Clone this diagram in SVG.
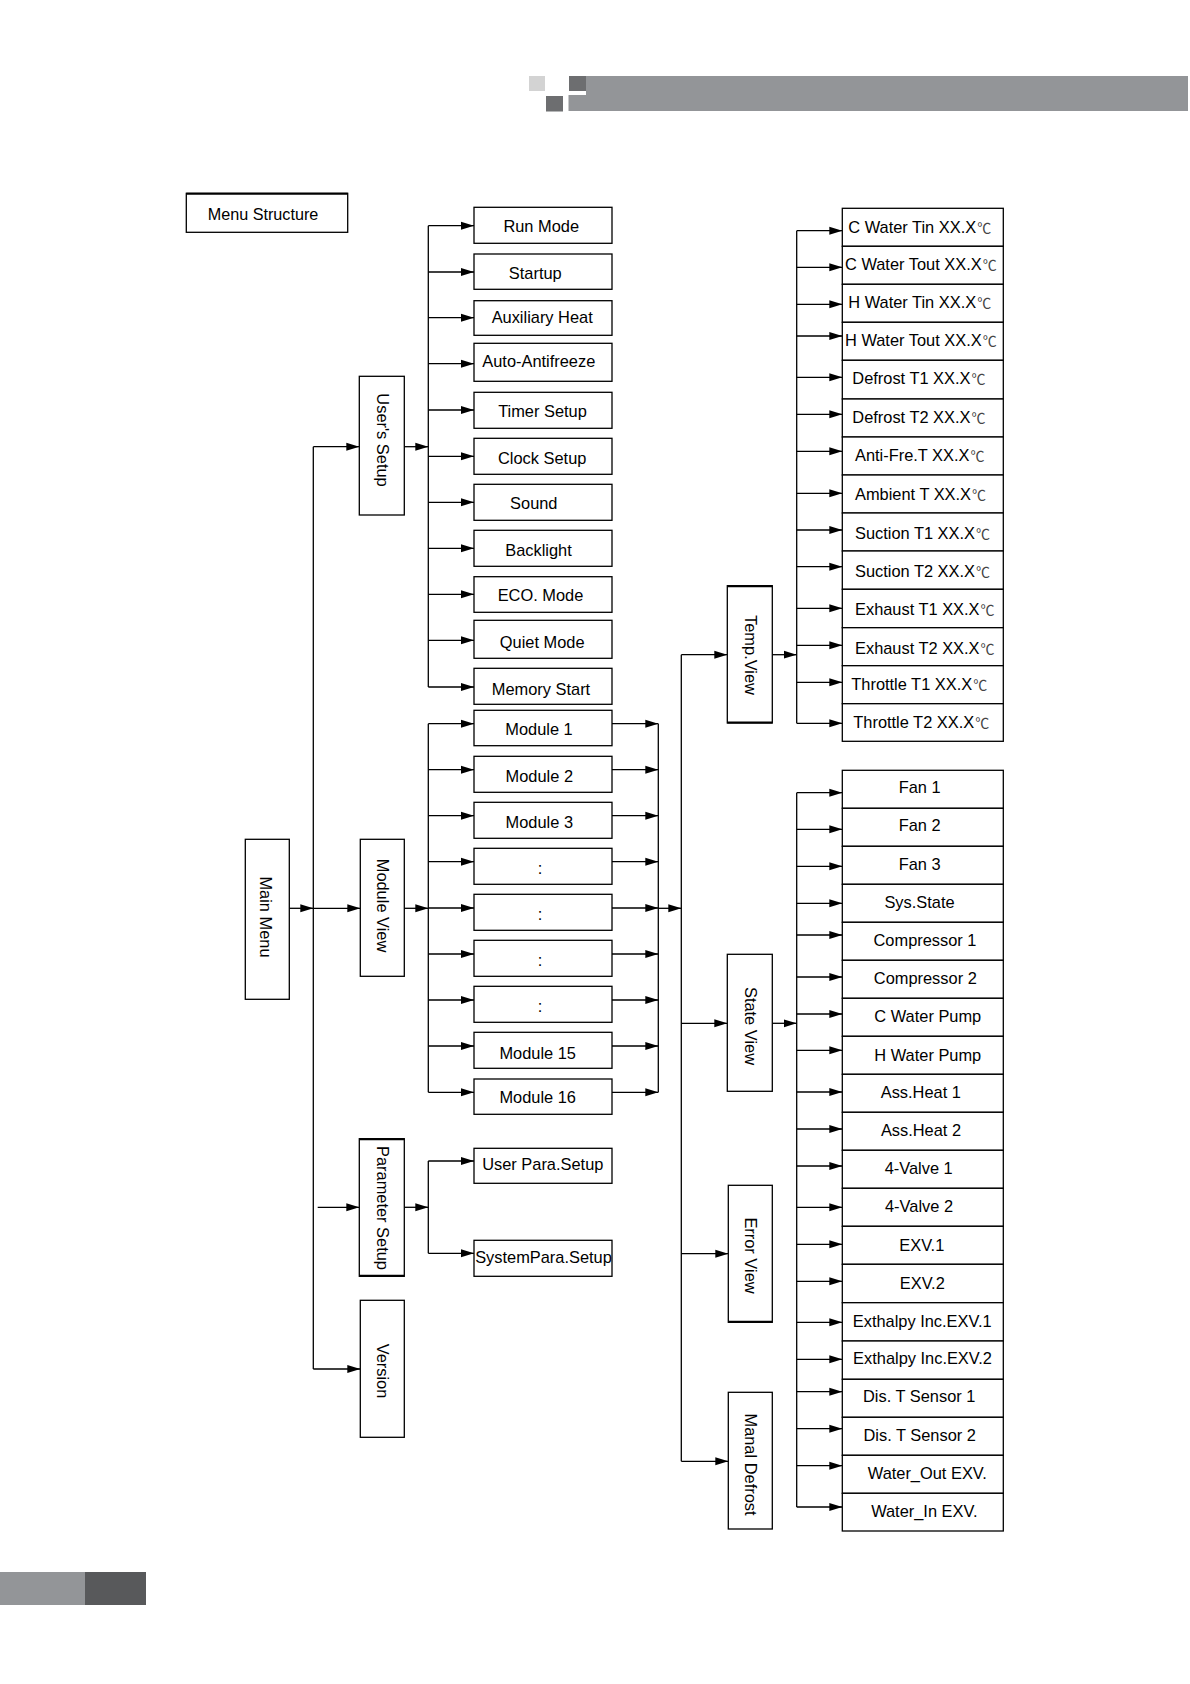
<svg xmlns="http://www.w3.org/2000/svg" width="1190" height="1684" viewBox="0 0 1190 1684">
<defs>
<style>
.box{fill:#fff;stroke:#000;stroke-width:1.3}
.t{font-family:"Liberation Sans",Arial,sans-serif;font-size:16.4px;fill:#000}
.c{text-anchor:middle}
.w{font-family:"Noto Sans CJK SC",sans-serif;font-size:14px;fill:#444}
.ln{fill:none;stroke:#000;stroke-width:1.3}
.ar{marker-end:url(#ah)}
</style>
<marker id="ah" markerUnits="userSpaceOnUse" markerWidth="14" markerHeight="9" refX="13" refY="4.5" orient="auto">
<path d="M0,0.5 L13,4.5 L0,8.5 z" fill="#000"/>
</marker>
</defs>
<rect width="1190" height="1684" fill="#fff"/>
<g id="header">
<rect x="529" y="76" width="16" height="15" fill="#d3d3d3"/>
<rect x="546" y="96" width="17" height="15.5" fill="#6d6e70"/>
<rect x="569" y="76" width="17" height="15" fill="#6d6e70"/>
<rect x="586" y="76" width="602" height="35" fill="#939598"/>
<rect x="568.5" y="95" width="18" height="16" fill="#939598"/>
</g>
<g id="footer">
<rect x="0" y="1572" width="85" height="33" fill="#939598"/>
<rect x="85" y="1572" width="61" height="33" fill="#58595b"/>
</g>
<g id="connectors">
<path class="ln ar" d="M289.3,908.3 H313.3"/>
<path class="ln" d="M313.3,446.7 V1369"/>
<path class="ln ar" d="M313.3,446.7 H359.3"/>
<path class="ln ar" d="M313.3,908.3 H360.3"/>
<path class="ln ar" d="M317.7,1207.3 H359.3"/>
<path class="ln ar" d="M313.3,1369 H360.3"/>
<path class="ln ar" d="M404.3,446.7 H428.3"/>
<path class="ln" d="M428.3,225.7 V687"/>
<path class="ln ar" d="M428.3,225.7 H474"/>
<path class="ln ar" d="M428.3,272 H474"/>
<path class="ln ar" d="M428.3,317.7 H474"/>
<path class="ln ar" d="M428.3,363.7 H474"/>
<path class="ln ar" d="M428.3,410 H474"/>
<path class="ln ar" d="M428.3,456.3 H474"/>
<path class="ln ar" d="M428.3,502.3 H474"/>
<path class="ln ar" d="M428.3,548.3 H474"/>
<path class="ln ar" d="M428.3,594.3 H474"/>
<path class="ln ar" d="M428.3,640.3 H474"/>
<path class="ln ar" d="M428.3,687 H474"/>
<path class="ln ar" d="M404.3,908.3 H428.3"/>
<path class="ln" d="M428.3,723.7 V1092.3"/>
<path class="ln ar" d="M428.3,723.7 H474"/>
<path class="ln ar" d="M428.3,769.7 H474"/>
<path class="ln ar" d="M428.3,815.7 H474"/>
<path class="ln ar" d="M428.3,861.7 H474"/>
<path class="ln ar" d="M428.3,908 H474"/>
<path class="ln ar" d="M428.3,954 H474"/>
<path class="ln ar" d="M428.3,1000 H474"/>
<path class="ln ar" d="M428.3,1046 H474"/>
<path class="ln ar" d="M428.3,1092.3 H474"/>
<path class="ln ar" d="M612,723.7 H658.3"/>
<path class="ln ar" d="M612,769.7 H658.3"/>
<path class="ln ar" d="M612,815.7 H658.3"/>
<path class="ln ar" d="M612,861.7 H658.3"/>
<path class="ln ar" d="M612,908 H658.3"/>
<path class="ln ar" d="M612,954 H658.3"/>
<path class="ln ar" d="M612,1000 H658.3"/>
<path class="ln ar" d="M612,1046 H658.3"/>
<path class="ln ar" d="M612,1092.3 H658.3"/>
<path class="ln" d="M658.3,723.7 V1092.3"/>
<path class="ln ar" d="M658.3,908.3 H681.3"/>
<path class="ln ar" d="M404.3,1207.3 H428.3"/>
<path class="ln" d="M428.3,1161 V1253.3"/>
<path class="ln ar" d="M428.3,1161 H474"/>
<path class="ln ar" d="M428.3,1253.3 H474"/>
<path class="ln" d="M681.3,654.7 V1461.3"/>
<path class="ln ar" d="M681.3,654.7 H727.3"/>
<path class="ln ar" d="M681.3,1023.3 H727.3"/>
<path class="ln ar" d="M681.3,1253.7 H728.3"/>
<path class="ln ar" d="M681.3,1461.3 H728.3"/>
<path class="ln ar" d="M772.3,654.7 H796.7"/>
<path class="ln" d="M796.7,230.7 V723.3"/>
<path class="ln ar" d="M796.7,230.7 H842.3"/>
<path class="ln ar" d="M796.7,267.3 H842.3"/>
<path class="ln ar" d="M796.7,304.3 H842.3"/>
<path class="ln ar" d="M796.7,336 H842.3"/>
<path class="ln ar" d="M796.7,377.3 H842.3"/>
<path class="ln ar" d="M796.7,414.3 H842.3"/>
<path class="ln ar" d="M796.7,451.3 H842.3"/>
<path class="ln ar" d="M796.7,493.3 H842.3"/>
<path class="ln ar" d="M796.7,530 H842.3"/>
<path class="ln ar" d="M796.7,566.7 H842.3"/>
<path class="ln ar" d="M796.7,608.3 H842.3"/>
<path class="ln ar" d="M796.7,645.3 H842.3"/>
<path class="ln ar" d="M796.7,682.3 H842.3"/>
<path class="ln ar" d="M796.7,723.3 H842.3"/>
<path class="ln ar" d="M772.3,1023.3 H796.7"/>
<path class="ln" d="M796.7,792.7 V1507"/>
<path class="ln ar" d="M796.7,792.7 H842.3"/>
<path class="ln ar" d="M796.7,829.3 H842.3"/>
<path class="ln ar" d="M796.7,866.3 H842.3"/>
<path class="ln ar" d="M796.7,903.3 H842.3"/>
<path class="ln ar" d="M796.7,935 H842.3"/>
<path class="ln ar" d="M796.7,977 H842.3"/>
<path class="ln ar" d="M796.7,1014 H842.3"/>
<path class="ln ar" d="M796.7,1050.3 H842.3"/>
<path class="ln ar" d="M796.7,1092 H842.3"/>
<path class="ln ar" d="M796.7,1129 H842.3"/>
<path class="ln ar" d="M796.7,1166 H842.3"/>
<path class="ln ar" d="M796.7,1207.3 H842.3"/>
<path class="ln ar" d="M796.7,1244.3 H842.3"/>
<path class="ln ar" d="M796.7,1281.3 H842.3"/>
<path class="ln ar" d="M796.7,1322.3 H842.3"/>
<path class="ln ar" d="M796.7,1359.3 H842.3"/>
<path class="ln ar" d="M796.7,1391.7 H842.3"/>
<path class="ln ar" d="M796.7,1428.7 H842.3"/>
<path class="ln ar" d="M796.7,1465.7 H842.3"/>
<path class="ln ar" d="M796.7,1507 H842.3"/>
</g>
<g id="menu-structure"><rect class="box" x="186.3" y="193.3" width="161.4" height="39"/><line x1="186.3" y1="193.8" x2="347.7" y2="193.8" stroke="#000" stroke-width="2"/><text class="t c" x="263" y="220" style="font-size:16.2px">Menu Structure</text></g>
<g id="main-menu"><rect class="box" x="245.3" y="839.3" width="44" height="160"/><text class="t c" transform="translate(260,917) rotate(90)">Main Menu</text></g>
<g id="users-setup"><rect class="box" x="359.3" y="376.3" width="45" height="138.7"/><text class="t c" transform="translate(376.5,440) rotate(90)">User's Setup</text></g>
<g id="module-view"><rect class="box" x="360.3" y="839.3" width="44" height="137"/><text class="t c" transform="translate(377,905.5) rotate(90)">Module View</text></g>
<g id="parameter-setup"><rect class="box" x="359.3" y="1138.7" width="45" height="137.6"/><line x1="359.3" y1="1139.2" x2="404.3" y2="1139.2" stroke="#000" stroke-width="2"/><line x1="359.3" y1="1275.8" x2="404.3" y2="1275.8" stroke="#000" stroke-width="2"/><text class="t c" transform="translate(377,1208) rotate(90)">Parameter Setup</text></g>
<g id="version"><rect class="box" x="360.3" y="1300.3" width="44" height="137"/><text class="t c" transform="translate(377,1371) rotate(90)">Version</text></g>
<g id="run-mode"><rect class="box" x="474" y="207.3" width="138" height="36"/><text class="t c" x="541.2" y="232.3">Run Mode</text></g>
<g id="startup"><rect class="box" x="474" y="254" width="138" height="35.3"/><text class="t c" x="535.3" y="279">Startup</text></g>
<g id="auxiliary-heat"><rect class="box" x="474" y="300.7" width="138" height="34.6"/><text class="t c" x="542.2" y="322.7">Auxiliary Heat</text></g>
<g id="auto-antifreeze"><rect class="box" x="474" y="343.3" width="138" height="38"/><text class="t c" x="538.8" y="366.7">Auto-Antifreeze</text></g>
<g id="timer-setup"><rect class="box" x="474" y="392.3" width="138" height="36"/><text class="t c" x="542.5" y="416.7">Timer Setup</text></g>
<g id="clock-setup"><rect class="box" x="474" y="438.3" width="138" height="36"/><text class="t c" x="542.2" y="464">Clock Setup</text></g>
<g id="sound"><rect class="box" x="474" y="484.3" width="138" height="36"/><text class="t c" x="533.8" y="509.3">Sound</text></g>
<g id="backlight"><rect class="box" x="474" y="530.3" width="138" height="36"/><text class="t c" x="538.5" y="555.7">Backlight</text></g>
<g id="eco-mode"><rect class="box" x="474" y="576.7" width="138" height="35.6"/><text class="t c" x="540.5" y="600.7">ECO. Mode</text></g>
<g id="quiet-mode"><rect class="box" x="474" y="620.3" width="138" height="38"/><text class="t c" x="542.2" y="647.7">Quiet Mode</text></g>
<g id="memory-start"><rect class="box" x="474" y="668.3" width="138" height="36"/><text class="t c" x="541" y="695">Memory Start</text></g>
<g id="module-1"><rect class="box" x="474" y="710.3" width="138" height="35.4"/><text class="t c" x="539" y="735">Module 1</text></g>
<g id="module-2"><rect class="box" x="474" y="756.3" width="138" height="36"/><text class="t c" x="539.3" y="781.7">Module 2</text></g>
<g id="module-3"><rect class="box" x="474" y="802.3" width="138" height="36"/><text class="t c" x="539.3" y="828">Module 3</text></g>
<g id="module-dots-1"><rect class="box" x="474" y="848.3" width="138" height="36"/><text class="t c" x="540" y="874">:</text></g>
<g id="module-dots-2"><rect class="box" x="474" y="894.3" width="138" height="36"/><text class="t c" x="540" y="920">:</text></g>
<g id="module-dots-3"><rect class="box" x="474" y="940.3" width="138" height="36"/><text class="t c" x="540" y="966">:</text></g>
<g id="module-dots-4"><rect class="box" x="474" y="986.3" width="138" height="36"/><text class="t c" x="540" y="1012">:</text></g>
<g id="module-15"><rect class="box" x="474" y="1032.3" width="138" height="36"/><text class="t c" x="537.7" y="1058.5">Module 15</text></g>
<g id="module-16"><rect class="box" x="474" y="1079" width="138" height="35.3"/><text class="t c" x="537.7" y="1103.3">Module 16</text></g>
<g id="user-para-setup"><rect class="box" x="474" y="1148.3" width="138" height="35"/><text class="t c" x="542.8" y="1170">User Para.Setup</text></g>
<g id="systempara-setup"><rect class="box" x="474" y="1240.3" width="138" height="36"/><text class="t c" x="543.5" y="1262.7">SystemPara.Setup</text></g>
<g id="temp-view"><rect class="box" x="727.3" y="585.7" width="45" height="137.3"/><line x1="727.3" y1="586.2" x2="772.3" y2="586.2" stroke="#000" stroke-width="2"/><line x1="727.3" y1="722.5" x2="772.3" y2="722.5" stroke="#000" stroke-width="2"/><text class="t c" transform="translate(745,655) rotate(90)">Temp.View</text></g>
<g id="state-view"><rect class="box" x="727.3" y="954.3" width="45" height="137"/><text class="t c" transform="translate(745,1026) rotate(90)">State View</text></g>
<g id="error-view"><rect class="box" x="728.3" y="1185.3" width="44" height="137"/><line x1="728.3" y1="1321.8" x2="772.3" y2="1321.8" stroke="#000" stroke-width="2"/><text class="t c" transform="translate(745,1255.5) rotate(90)">Error View</text></g>
<g id="manal-defrost"><rect class="box" x="728.3" y="1392.3" width="44" height="136.7"/><text class="t c" transform="translate(745,1464.5) rotate(90)">Manal Defrost</text></g>
<g id="c-water-tin"><rect class="box" x="842.3" y="208.3" width="161" height="38"/><text class="t" x="848.3" y="232.7">C Water Tin XX.X<tspan class="w" dx="1">℃</tspan></text></g>
<g id="c-water-tout"><rect class="box" x="842.3" y="246.3" width="161" height="38"/><text class="t" x="845" y="270">C Water Tout XX.X<tspan class="w" dx="1">℃</tspan></text></g>
<g id="h-water-tin"><rect class="box" x="842.3" y="284.3" width="161" height="38"/><text class="t" x="848.3" y="308.3">H Water Tin XX.X<tspan class="w" dx="1">℃</tspan></text></g>
<g id="h-water-tout"><rect class="box" x="842.3" y="322.3" width="161" height="38"/><text class="t" x="845" y="346">H Water Tout XX.X<tspan class="w" dx="1">℃</tspan></text></g>
<g id="defrost-t1"><rect class="box" x="842.3" y="360.3" width="161" height="38.7"/><text class="t" x="852.3" y="384">Defrost T1 XX.X<tspan class="w" dx="1">℃</tspan></text></g>
<g id="defrost-t2"><rect class="box" x="842.3" y="399" width="161" height="38"/><text class="t" x="852.3" y="422.7">Defrost T2 XX.X<tspan class="w" dx="1">℃</tspan></text></g>
<g id="anti-fre-t"><rect class="box" x="842.3" y="437" width="161" height="38"/><text class="t" x="855" y="461">Anti-Fre.T XX.X<tspan class="w" dx="1">℃</tspan></text></g>
<g id="ambient-t"><rect class="box" x="842.3" y="475" width="161" height="38"/><text class="t" x="855" y="500">Ambient T XX.X<tspan class="w" dx="1">℃</tspan></text></g>
<g id="suction-t1"><rect class="box" x="842.3" y="513" width="161" height="38"/><text class="t" x="855" y="539">Suction T1 XX.X<tspan class="w" dx="1">℃</tspan></text></g>
<g id="suction-t2"><rect class="box" x="842.3" y="551" width="161" height="38.3"/><text class="t" x="855" y="576.7">Suction T2 XX.X<tspan class="w" dx="1">℃</tspan></text></g>
<g id="exhaust-t1"><rect class="box" x="842.3" y="589.3" width="161" height="38.4"/><text class="t" x="855" y="615">Exhaust T1 XX.X<tspan class="w" dx="1">℃</tspan></text></g>
<g id="exhaust-t2"><rect class="box" x="842.3" y="627.7" width="161" height="38"/><text class="t" x="855" y="654">Exhaust T2 XX.X<tspan class="w" dx="1">℃</tspan></text></g>
<g id="throttle-t1"><rect class="box" x="842.3" y="665.7" width="161" height="38"/><text class="t" x="851.3" y="690">Throttle T1 XX.X<tspan class="w" dx="1">℃</tspan></text></g>
<g id="throttle-t2"><rect class="box" x="842.3" y="703.7" width="161" height="37.6"/><text class="t" x="853.3" y="727.7">Throttle T2 XX.X<tspan class="w" dx="1">℃</tspan></text></g>
<g id="fan-1"><rect class="box" x="842.3" y="770.3" width="161" height="38"/><text class="t c" x="919.7" y="793.3">Fan 1</text></g>
<g id="fan-2"><rect class="box" x="842.3" y="808.3" width="161" height="38"/><text class="t c" x="919.7" y="831">Fan 2</text></g>
<g id="fan-3"><rect class="box" x="842.3" y="846.3" width="161" height="38"/><text class="t c" x="919.7" y="870">Fan 3</text></g>
<g id="sys-state"><rect class="box" x="842.3" y="884.3" width="161" height="38"/><text class="t c" x="919.5" y="907.7">Sys.State</text></g>
<g id="compressor-1"><rect class="box" x="842.3" y="922.3" width="161" height="38"/><text class="t c" x="925" y="946">Compressor 1</text></g>
<g id="compressor-2"><rect class="box" x="842.3" y="960.3" width="161" height="38"/><text class="t c" x="925.3" y="984">Compressor 2</text></g>
<g id="c-water-pump"><rect class="box" x="842.3" y="998.3" width="161" height="38"/><text class="t c" x="927.8" y="1021.7">C Water Pump</text></g>
<g id="h-water-pump"><rect class="box" x="842.3" y="1036.3" width="161" height="38"/><text class="t c" x="927.8" y="1060.7">H Water Pump</text></g>
<g id="ass-heat-1"><rect class="box" x="842.3" y="1074.3" width="161" height="38"/><text class="t c" x="920.8" y="1098.3">Ass.Heat 1</text></g>
<g id="ass-heat-2"><rect class="box" x="842.3" y="1112.3" width="161" height="38"/><text class="t c" x="921" y="1136">Ass.Heat 2</text></g>
<g id="four-valve-1"><rect class="box" x="842.3" y="1150.3" width="161" height="38"/><text class="t c" x="918.7" y="1174">4-Valve 1</text></g>
<g id="four-valve-2"><rect class="box" x="842.3" y="1188.3" width="161" height="38"/><text class="t c" x="919" y="1212">4-Valve 2</text></g>
<g id="exv-1"><rect class="box" x="842.3" y="1226.3" width="161" height="38"/><text class="t c" x="921.8" y="1250.7">EXV.1</text></g>
<g id="exv-2"><rect class="box" x="842.3" y="1264.3" width="161" height="38.4"/><text class="t c" x="922.3" y="1288.7">EXV.2</text></g>
<g id="exthalpy-exv-1"><rect class="box" x="842.3" y="1302.7" width="161" height="38.3"/><text class="t c" x="922.2" y="1326.7">Exthalpy Inc.EXV.1</text></g>
<g id="exthalpy-exv-2"><rect class="box" x="842.3" y="1341" width="161" height="38.3"/><text class="t c" x="922.5" y="1364">Exthalpy Inc.EXV.2</text></g>
<g id="dis-t-sensor-1"><rect class="box" x="842.3" y="1379.3" width="161" height="38"/><text class="t c" x="919.2" y="1402.3">Dis. T Sensor 1</text></g>
<g id="dis-t-sensor-2"><rect class="box" x="842.3" y="1417.3" width="161" height="38"/><text class="t c" x="919.7" y="1441">Dis. T Sensor 2</text></g>
<g id="water-out-exv"><rect class="box" x="842.3" y="1455.3" width="161" height="38"/><text class="t c" x="927.3" y="1479.3">Water_Out EXV.</text></g>
<g id="water-in-exv"><rect class="box" x="842.3" y="1493.3" width="161" height="37.7"/><text class="t c" x="924.3" y="1517.3">Water_In EXV.</text></g>
</svg>
